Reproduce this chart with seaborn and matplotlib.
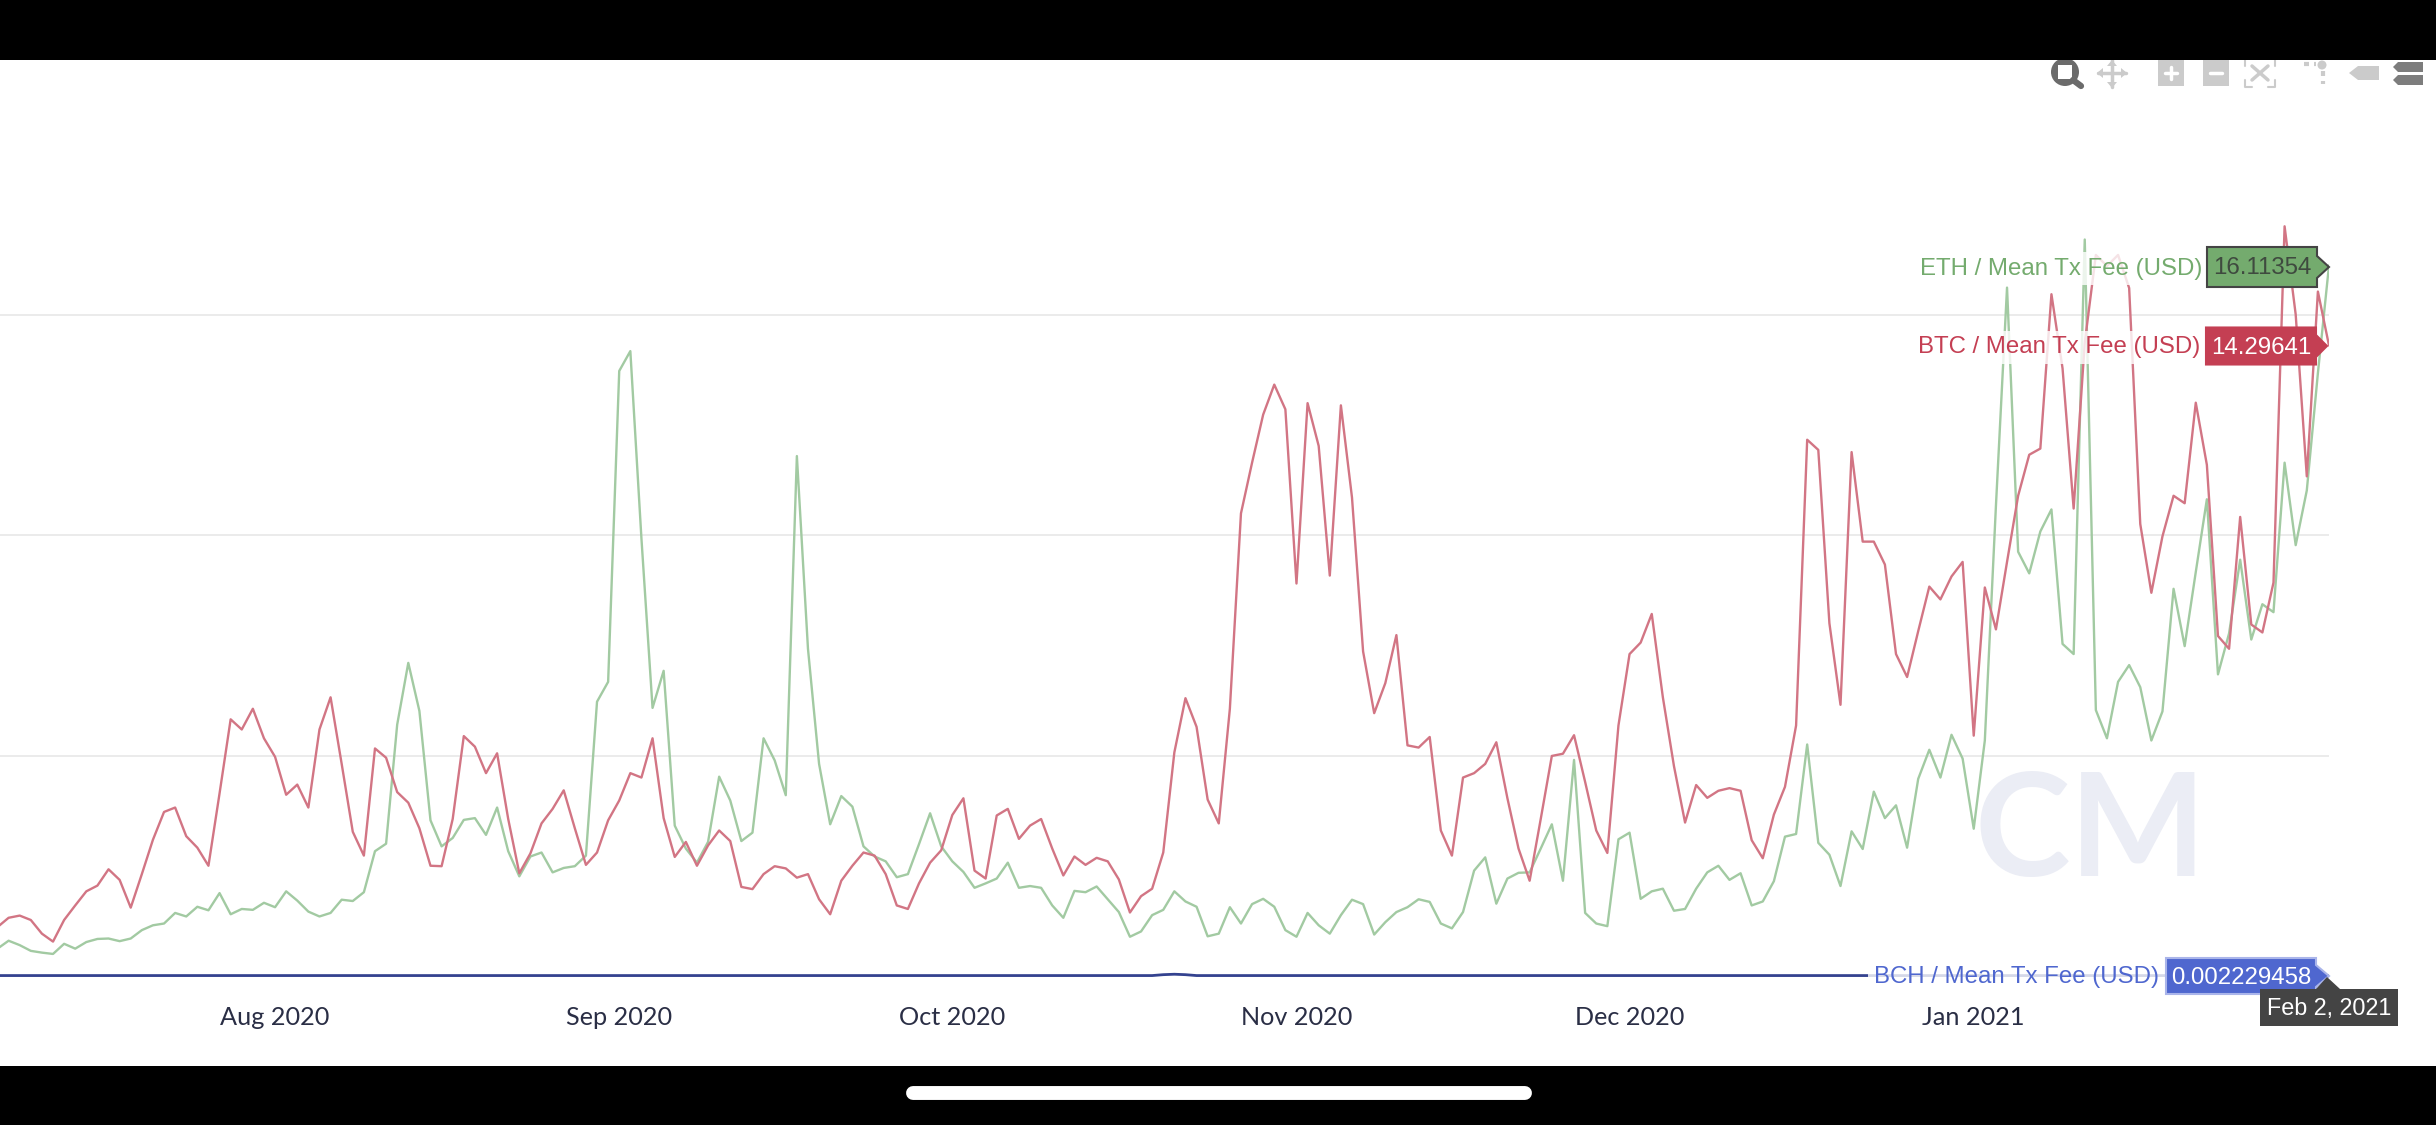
#!/usr/bin/env python3

# Imports:
import matplotlib

matplotlib.use("Agg")
import matplotlib.dates as mdates
import matplotlib.pyplot as plt
import pandas as pd
import seaborn as sns
from matplotlib.lines import Line2D
from matplotlib.patches import Circle, Polygon, Rectangle

# Mean transaction fee in USD, one value per day.
START_DATE = "2020-07-07"
BTC_FEE = [
    1.11, 1.32, 1.37, 1.27, 0.96, 0.78, 1.27, 1.60, 1.92, 2.05,
    2.42, 2.18, 1.55, 2.31, 3.09, 3.72, 3.82, 3.17, 2.91, 2.50,
    4.14, 5.82, 5.59, 6.06, 5.39, 4.97, 4.11, 4.34, 3.82, 5.59,
    6.32, 4.81, 3.27, 2.73, 5.16, 4.95, 4.17, 3.93, 3.35, 2.50,
    2.49, 3.56, 5.44, 5.20, 4.60, 5.05, 3.56, 2.33, 2.78, 3.46,
    3.79, 4.21, 3.35, 2.52, 2.80, 3.53, 3.98, 4.60, 4.50, 5.39,
    3.58, 2.70, 3.04, 2.50, 2.96, 3.30, 3.06, 2.02, 1.97, 2.31,
    2.49, 2.44, 2.23, 2.31, 1.74, 1.40, 2.16, 2.50, 2.80, 2.73,
    2.31, 1.60, 1.52, 2.10, 2.57, 2.85, 3.65, 4.03, 2.39, 2.21,
    3.64, 3.79, 3.11, 3.41, 3.56, 2.89, 2.28, 2.71, 2.52, 2.68,
    2.60, 2.19, 1.44, 1.81, 1.98, 2.80, 5.07, 6.30, 5.65, 4.00,
    3.46, 6.06, 10.49, 11.64, 12.73, 13.41, 12.85, 8.90, 12.99, 12.02,
    9.08, 12.94, 10.85, 7.36, 5.96, 6.64, 7.73, 5.23, 5.18, 5.42,
    3.30, 2.73, 4.50, 4.60, 4.81, 5.30, 4.03, 2.89, 2.16, 3.56,
    4.99, 5.04, 5.46, 4.40, 3.30, 2.79, 5.68, 7.30, 7.56, 8.21,
    6.32, 4.76, 3.48, 4.33, 4.04, 4.20, 4.26, 4.20, 3.08, 2.67,
    3.66, 4.29, 5.68, 12.16, 11.93, 8.00, 6.15, 11.88, 9.85, 9.85,
    9.33, 7.30, 6.78, 7.82, 8.83, 8.54, 9.06, 9.39, 5.45, 8.81,
    7.86, 9.39, 10.89, 11.82, 11.96, 15.46, 13.78, 10.60, 14.36, 16.35,
    16.10, 16.35, 15.60, 10.25, 8.69, 9.97, 10.89, 10.72, 13.00, 11.59,
    7.71, 7.42, 10.41, 7.97, 7.79, 8.92, 17.00, 15.00, 11.33, 15.52,
    14.29641,
]
ETH_FEE = [
    0.62, 0.80, 0.70, 0.57, 0.53, 0.50, 0.73, 0.62, 0.77, 0.84,
    0.85, 0.79, 0.85, 1.04, 1.15, 1.19, 1.43, 1.35, 1.57, 1.49,
    1.88, 1.40, 1.52, 1.50, 1.66, 1.56, 1.92, 1.71, 1.46, 1.35,
    1.43, 1.73, 1.70, 1.90, 2.83, 3.00, 5.70, 7.10, 6.01, 3.53,
    2.94, 3.13, 3.54, 3.58, 3.20, 3.82, 2.83, 2.26, 2.71, 2.80,
    2.35, 2.45, 2.49, 2.73, 6.22, 6.67, 13.72, 14.17, 9.92, 6.08,
    6.92, 3.41, 2.89, 2.57, 3.04, 4.52, 3.98, 3.06, 3.25, 5.39,
    4.89, 4.10, 11.79, 7.42, 4.81, 3.44, 4.08, 3.84, 2.94, 2.71,
    2.60, 2.24, 2.31, 2.99, 3.69, 2.94, 2.60, 2.36, 2.00, 2.10,
    2.21, 2.57, 2.00, 2.04, 2.00, 1.60, 1.32, 1.93, 1.90, 2.03,
    1.74, 1.45, 0.89, 1.01, 1.38, 1.50, 1.92, 1.69, 1.57, 0.90,
    0.96, 1.56, 1.19, 1.63, 1.75, 1.57, 1.04, 0.89, 1.43, 1.15,
    0.96, 1.38, 1.73, 1.63, 0.94, 1.22, 1.45, 1.56, 1.74, 1.68,
    1.19, 1.08, 1.45, 2.39, 2.69, 1.64, 2.21, 2.34, 2.35, 2.89,
    3.44, 2.16, 4.90, 1.43, 1.19, 1.13, 3.10, 3.25, 1.75, 1.92,
    1.98, 1.48, 1.52, 1.98, 2.35, 2.50, 2.18, 2.33, 1.60, 1.69,
    2.15, 3.16, 3.22, 5.25, 3.02, 2.75, 2.04, 3.28, 2.88, 4.18,
    3.58, 3.87, 2.91, 4.47, 5.13, 4.50, 5.47, 4.93, 3.34, 5.34,
    10.66, 15.61, 9.62, 9.13, 10.08, 10.58, 7.53, 7.30, 16.70, 6.03,
    5.39, 6.67, 7.05, 6.55, 5.34, 6.00, 8.78, 7.48, 9.16, 10.81,
    6.84, 7.77, 9.44, 7.63, 8.43, 8.25, 11.64, 9.77, 11.01, 13.67,
    16.11354,
]
BCH_FEE = [
    0.01, 0.01, 0.01, 0.01, 0.01, 0.01, 0.01, 0.01, 0.01, 0.01,
    0.01, 0.01, 0.01, 0.01, 0.01, 0.01, 0.01, 0.01, 0.01, 0.01,
    0.01, 0.01, 0.01, 0.01, 0.01, 0.01, 0.01, 0.01, 0.01, 0.01,
    0.01, 0.01, 0.01, 0.01, 0.01, 0.01, 0.01, 0.01, 0.01, 0.01,
    0.01, 0.01, 0.01, 0.01, 0.01, 0.01, 0.01, 0.01, 0.01, 0.01,
    0.01, 0.01, 0.01, 0.01, 0.01, 0.01, 0.01, 0.01, 0.01, 0.01,
    0.01, 0.01, 0.01, 0.01, 0.01, 0.01, 0.01, 0.01, 0.01, 0.01,
    0.01, 0.01, 0.01, 0.01, 0.01, 0.01, 0.01, 0.01, 0.01, 0.01,
    0.01, 0.01, 0.01, 0.01, 0.01, 0.01, 0.01, 0.01, 0.01, 0.01,
    0.01, 0.01, 0.01, 0.01, 0.01, 0.01, 0.01, 0.01, 0.01, 0.01,
    0.01, 0.01, 0.01, 0.01, 0.01, 0.03, 0.04, 0.03, 0.01, 0.01,
    0.01, 0.01, 0.01, 0.01, 0.01, 0.01, 0.01, 0.01, 0.01, 0.01,
    0.01, 0.01, 0.01, 0.01, 0.01, 0.01, 0.01, 0.01, 0.01, 0.01,
    0.01, 0.01, 0.01, 0.01, 0.01, 0.01, 0.01, 0.01, 0.01, 0.01,
    0.01, 0.01, 0.01, 0.01, 0.01, 0.01, 0.01, 0.01, 0.01, 0.01,
    0.01, 0.01, 0.01, 0.01, 0.01, 0.01, 0.01, 0.01, 0.01, 0.01,
    0.01, 0.01, 0.01, 0.01, 0.01, 0.01, 0.01, 0.01, 0.01, 0.01,
    0.01, 0.01, 0.01, 0.01, 0.01, 0.01, 0.01, 0.01, 0.01, 0.01,
    0.01, 0.01, 0.01, 0.01, 0.01, 0.01, 0.01, 0.01, 0.01, 0.01,
    0.01, 0.01, 0.01, 0.01, 0.01, 0.01, 0.01, 0.01, 0.01, 0.01,
    0.01, 0.01, 0.01, 0.01, 0.01, 0.01, 0.01, 0.01, 0.01, 0.01,
    0.002229458,
]
MONTH_TICKS = ["2020-08-01", "2020-09-01", "2020-10-01", "2020-11-01",
               "2020-12-01", "2021-01-01"]
MONTH_LABELS = ["Aug 2020", "Sep 2020", "Oct 2020", "Nov 2020",
                "Dec 2020", "Jan 2021"]
GRID_VALUES = [5, 10, 15]

WIDTH, HEIGHT = 2436, 1125
AX_LEFT, AX_TOP, AX_RIGHT, AX_BOTTOM = 0, 60, 2329, 990
LINE_COLOURS = {"ETH": "#a2caa2", "BTC": "#d27584", "BCH": "#34428f"}


def frac_box(left, top, right, bottom):
    """Pixel box, measured from the top left, as add_axes fractions."""
    return [left / WIDTH, 1 - bottom / HEIGHT,
            (right - left) / WIDTH, (bottom - top) / HEIGHT]


def draw_watermark(ax):
    """Puts the pale CM logo behind the lines."""
    ax.text(
        (2090 - AX_LEFT) / (AX_RIGHT - AX_LEFT),
        (AX_BOTTOM - 876) / (AX_BOTTOM - AX_TOP),
        "CM",
        transform=ax.transAxes,
        ha="center",
        va="baseline",
        fontsize=104,
        fontweight="bold",
        color="#ebedf5",
        family="Lato",
        zorder=0,
    )


def draw_main_chart(fig):
    """Draws the three fee lines with seaborn on a date axis."""
    dates = pd.date_range(START_DATE, periods=len(BTC_FEE), freq="D")
    fees = pd.DataFrame(
        {"date": dates, "BTC": BTC_FEE, "ETH": ETH_FEE, "BCH": BCH_FEE}
    ).melt(id_vars="date", var_name="asset", value_name="fee")

    ax = fig.add_axes(frac_box(AX_LEFT, AX_TOP, AX_RIGHT, AX_BOTTOM))
    draw_watermark(ax)
    for group, width in (("ETH", 1.7), ("BTC", 1.7), ("BCH", 2.0)):
        sns.lineplot(
            data=fees[fees["asset"] == group],
            x="date",
            y="fee",
            color=LINE_COLOURS[group],
            linewidth=width,
            estimator=None,
            ax=ax,
            zorder=3,
        )
    ax.set_xlim(
        pd.Timestamp(START_DATE) + pd.Timedelta(hours=5.4), dates[-1]
    )
    ax.set_ylim((976 - AX_BOTTOM) / 44.1, (976 - AX_TOP) / 44.1)
    ax.set_xticks([mdates.date2num(pd.Timestamp(t)) for t in MONTH_TICKS])
    ax.set_xticklabels(MONTH_LABELS, fontsize=18.2, family="Lato",
                       color="#2a2e45")
    ax.set_yticks(GRID_VALUES)
    ax.set_yticklabels([])
    ax.tick_params(length=0, pad=11.5)
    ax.grid(axis="y", color="#e6e6e6", linewidth=1.1, zorder=1)
    ax.grid(axis="x", visible=False)
    ax.set_xlabel("")
    ax.set_ylabel("")
    sns.despine(ax=ax, left=True, bottom=True)
    ax.patch.set_alpha(0)
    return ax


def draw_tag(ov, name, value, y_px, label_end, box, colour, text_colour,
             edge, tip=2329):
    """Draws a series label with its arrow shaped value box."""
    left, right, half = box
    text_y = y_px + 1.5
    ov.text(label_end, text_y, name, ha="right", va="center", color=colour,
            fontsize=17.3, family="Liberation Sans",
            bbox=dict(facecolor="white", edgecolor="none", alpha=0.8,
                      pad=4))
    ov.add_patch(Polygon(
        [(left, y_px - half), (right, y_px - half), (right, y_px - 11),
         (tip, y_px), (right, y_px + 11), (right, y_px + half),
         (left, y_px + half)],
        closed=True, facecolor=colour, edgecolor=edge, linewidth=1.5,
        zorder=4,
    ))
    ov.text((left + right) / 2, text_y, value, ha="center", va="center",
            color=text_colour, fontsize=17.3, family="Liberation Sans",
            zorder=5)


def draw_toolbar(ov):
    """Draws the row of grey chart tool icons."""
    pale = "#cbcbcb"
    dark = "#6b6b6b"
    # Zoom.
    ov.add_patch(Circle((2065, 72), 14, facecolor=dark, edgecolor="none"))
    ov.add_patch(Rectangle((2058, 65), 14, 14, facecolor="white",
                           edgecolor="none"))
    ov.plot([2073, 2081], [80, 86], color=dark, lw=4.5)
    # Pan.
    ov.plot([2098, 2126], [73, 73], color=pale, lw=2.5)
    ov.plot([2112, 2112], [60, 87], color=pale, lw=2.5)
    for tri in ([(2097, 73), (2103, 68), (2103, 78)],
                [(2127, 73), (2121, 68), (2121, 78)],
                [(2112, 88), (2107, 82), (2117, 82)],
                [(2112, 60), (2107, 66), (2117, 66)]):
        ov.add_patch(Polygon(tri, facecolor=pale, edgecolor="none"))
    # Zoom in and out.
    for left in (2158, 2203):
        ov.add_patch(Rectangle((left, 60), 26, 26, facecolor=pale,
                               edgecolor="none"))
        ov.plot([left + 7, left + 19], [73, 73], color="white", lw=2.5)
    ov.plot([2171, 2171], [67, 79], color="white", lw=2.5)
    # Autoscale.
    ov.plot([2252, 2268], [66, 80], color=pale, lw=2.5)
    ov.plot([2252, 2268], [80, 66], color=pale, lw=2.5)
    ov.plot([2245, 2245, 2252], [80, 87, 87], color=pale, lw=1.5)
    ov.plot([2268, 2275, 2275], [87, 87, 80], color=pale, lw=1.5)
    ov.plot([2245, 2245], [60, 66], color=pale, lw=1.5)
    ov.plot([2275, 2275], [60, 66], color=pale, lw=1.5)
    # Spikes.
    ov.add_patch(Circle((2322, 65), 4.5, facecolor=pale, edgecolor="none"))
    ov.plot([2304, 2316], [64, 64], color=pale, lw=3, ls=(0, (1.2, 1.2)))
    ov.plot([2323, 2323], [71, 84], color=pale, lw=3, ls=(0, (1.2, 1.2)))
    # Hover modes.
    ov.add_patch(Polygon([(2349, 73), (2358, 66), (2379, 66), (2379, 80),
                          (2358, 80)], facecolor=pale, edgecolor="none"))
    for top, colour in ((62, "#7d7d7d"), (75, "#7d7d7d")):
        ov.add_patch(Polygon(
            [(2393, top + 5), (2398, top), (2423, top), (2423, top + 10),
             (2398, top + 10)], facecolor=colour, edgecolor="none"))


def draw_overlay(fig):
    """Draws the phone frame, value tags and toolbar in pixel positions."""
    ov = fig.add_axes([0, 0, 1, 1])
    ov.set_xlim(0, WIDTH)
    ov.set_ylim(HEIGHT, 0)
    ov.axis("off")
    ov.patch.set_alpha(0)

    draw_tag(ov, "ETH / Mean Tx Fee (USD)", "16.11354", 267, 2202,
             (2207, 2317, 20), "#74ab6e", "#3f4a3f", "#444444")
    draw_tag(ov, "BTC / Mean Tx Fee (USD)", "14.29641", 346, 2200,
             (2206, 2316, 18.5), "#c43f53", "white", "#c43f53", tip=2327)
    draw_tag(ov, "BCH / Mean Tx Fee (USD)", "0.002229458", 976, 2159,
             (2166, 2316, 18), "#4f67cf", "white", "#aab5ea")

    # Date tag below the last point.
    ov.add_patch(Polygon(
        [(2260, 989), (2316, 989), (2327, 977), (2340, 989), (2398, 989),
         (2398, 1026), (2260, 1026)],
        facecolor="#444444", edgecolor="none", zorder=6,
    ))
    ov.text(2329, 1008, "Feb 2, 2021", ha="center", va="center",
            color="white", fontsize=16.8, family="Liberation Sans", zorder=7)

    draw_toolbar(ov)

    # Phone status bar and home bar.
    ov.add_patch(Rectangle((0, 0), WIDTH, 60, facecolor="black",
                           edgecolor="none", zorder=8))
    ov.add_patch(Rectangle((0, 1066), WIDTH, 59, facecolor="black",
                           edgecolor="none", zorder=8))
    fig.add_artist(Line2D([913 / WIDTH, 1525 / WIDTH],
                          [1 - 1093 / HEIGHT] * 2, color="white", lw=10,
                          solid_capstyle="round", zorder=20))


def main():
    """Builds the figure and saves it as out.png."""
    sns.set_theme(style="white")
    plt.rcParams["font.family"] = ["Lato", "DejaVu Sans"]
    fig = plt.figure(figsize=(WIDTH / 100, HEIGHT / 100), dpi=100,
                     facecolor="white")
    draw_main_chart(fig)
    draw_overlay(fig)
    fig.savefig("out.png", dpi=100, facecolor="white")


if __name__ == "__main__":
    main()
